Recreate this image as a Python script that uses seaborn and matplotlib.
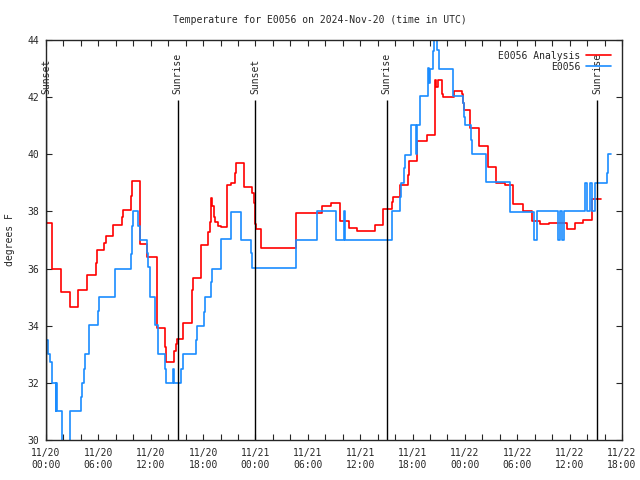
import matplotlib
matplotlib.use('Agg')
import matplotlib.pyplot as plt
import matplotlib.dates as mdates
import pandas as pd
import seaborn as sns

# ore dall'inizio (11/20 00:00 UTC) e temperature in gradi F
analysis_hours = [0.0, 0.69, 1.68, 2.71, 3.70, 4.74, 5.69, 5.85, 6.69, 6.9, 7.70, 8.67, 8.85,
                  9.70, 9.85, 10.73, 11.61, 12.68, 13.6, 13.75, 14.67, 14.85, 15.0, 15.7,
                  16.7, 16.75, 16.9, 17.72, 18.6, 18.75, 18.85, 19.0, 19.2, 19.4, 19.75, 20.0,
                  20.7, 21.2, 21.66, 21.8, 22.7, 23.64, 23.8, 23.9, 23.95, 24.1, 24.67, 28.68,
                  31.66, 32.6, 33.7, 34.72, 35.6, 37.7, 38.65, 39.6, 39.75, 40.56, 41.5, 41.65,
                  42.55, 43.6, 44.57, 44.69, 44.96, 45.35, 45.53, 46.7, 47.63, 47.75, 47.95,
                  48.58, 49.65, 50.6, 50.7, 51.56, 52.6, 53.55, 54.7, 55.65, 56.6, 57.64,
                  59.66, 60.6, 61.57, 62.6, 63.6]
analysis_temp = [37.6, 36.0, 35.17, 34.65, 35.25, 35.76, 36.2, 36.65, 36.9, 37.13, 37.51, 37.8, 38.04,
                 38.54, 39.05, 36.86, 36.4, 33.91, 33.27, 32.73, 33.1, 33.35, 33.55, 34.08,
                 34.8, 35.25, 35.66, 36.83, 37.29, 37.64, 38.46, 38.2, 37.82, 37.64, 37.5, 37.44,
                 38.93, 38.98, 39.33, 39.7, 38.84, 38.63, 38.28, 37.93, 37.56, 37.37, 36.71, 37.93,
                 38.19, 38.28, 37.66, 37.42, 37.3, 37.51, 38.07, 38.33, 38.5, 38.94, 39.29, 39.75,
                 40.47, 40.69, 42.6, 42.35, 42.6, 42.1, 42.0, 42.2, 42.1, 41.78, 41.55,
                 40.91, 40.29, 39.9, 39.54, 38.98, 38.93, 38.26, 38.03, 37.68, 37.56, 37.6,
                 37.37, 37.61, 37.7, 38.42, 38.42]

obs_hours = [0.0, 0.05, 0.2, 0.5, 0.65, 1.1, 1.15, 1.25, 1.87, 2.71, 4.05, 4.15, 4.35, 4.45, 4.97, 5.96,
             6.05, 7.95, 9.78, 9.83, 9.9, 9.95, 10.58, 10.73, 11.61, 11.7, 11.9, 11.95, 12.45,
             12.87, 13.64, 13.8, 14.55, 14.63, 15.5, 15.7, 17.22, 17.3, 18.1, 18.2, 18.95,
             19.05, 20.0, 20.1, 21.16, 22.3, 22.4, 23.52, 23.62, 28.68, 31.0, 31.08, 33.2,
             33.28, 34.2, 34.3, 39.7, 40.56, 40.65, 41.06, 41.13, 41.78, 41.85, 42.4, 42.5,
             42.85, 43.73, 43.85, 44.0, 44.4, 44.5, 44.8, 45.05, 46.67, 47.8, 47.9, 48.0,
             48.7, 48.8, 50.4, 53.17, 55.96, 56.3, 58.68, 58.95, 59.16, 59.39, 61.76, 62.03,
             62.33, 62.6, 62.9, 64.25, 64.35, 64.45, 64.7]
obs_temp = [34.49, 33.5, 33.0, 32.72, 32.0, 31.03, 32.0, 31.03, 29.5, 31.03, 31.5, 32.0, 32.5, 33.0, 34.01, 34.5,
            34.99, 36.0, 36.51, 36.98, 37.5, 38.0, 37.5, 37.0, 36.53, 36.07, 35.48, 35.02, 34.02,
            33.01, 32.47, 31.98, 32.5, 32.0, 32.5, 33.0, 33.5, 34.0, 34.49, 35.0, 35.54,
            36.0, 36.5, 37.02, 37.99, 37.47, 37.0, 36.53, 36.02, 37.0, 37.5, 38.0, 37.5,
            37.0, 38.0, 37.0, 38.0, 38.5, 39.0, 39.52, 39.99, 40.57, 41.04, 40.0, 41.04,
            42.03, 43.02, 42.5, 43.0, 43.6, 44.5, 43.65, 43.0, 42.04, 41.78, 41.32, 41.03,
            40.5, 40.01, 39.04, 37.99, 37.0, 38.0, 37.0, 38.0, 37.0, 38.0, 39.0, 38.0,
            39.0, 38.0, 39.0, 39.33, 39.74, 40.0, 40.0]

sun_hours = [0.0, 15.08, 23.97, 39.05, 63.15]
sun_labels = ['Sunset', 'Sunrise', 'Sunset', 'Sunrise', 'Sunrise']

start = pd.Timestamp('2024-11-20 00:00')
def to_time(h):
    return start + pd.to_timedelta(h, unit='h')

df_an = pd.DataFrame({'time': to_time(analysis_hours), 'temp': analysis_temp})
df_obs = pd.DataFrame({'time': to_time(obs_hours), 'temp': obs_temp})

sns.set_style('ticks')
plt.rcParams['font.family'] = ['DejaVu Sans Mono']
plt.rcParams['font.size'] = 7

fig = plt.figure(figsize=(6.4, 4.8), dpi=100)
ax = fig.add_axes([46/640, 40/480, 576/640, 400/480])

sns.lineplot(data=df_an, x='time', y='temp', ax=ax, color='#ff0000', lw=1.2,
             drawstyle='steps-post', estimator=None, sort=False, label='E0056 Analysis')
sns.lineplot(data=df_obs, x='time', y='temp', ax=ax, color='#1a8cff', lw=1.2,
             drawstyle='steps-post', estimator=None, sort=False, label='E0056')

for h, lab in zip(sun_hours, sun_labels):
    t = to_time(h)
    ax.vlines(t, 30, 41.9, color='black', lw=1)
    ax.text(t, 42.1, lab, rotation=90, ha='center', va='bottom', fontsize=7)

ax.set_xlim(start, to_time(66))
ax.set_ylim(30, 44)
ax.set_yticks(range(30, 45, 2))
ax.xaxis.set_major_locator(mdates.HourLocator(byhour=[0, 6, 12, 18]))
ax.xaxis.set_minor_locator(mdates.HourLocator(byhour=range(0, 24, 2)))
ax.xaxis.set_major_formatter(mdates.DateFormatter('%m/%d\n%H:%M'))
ax.tick_params(which='both', direction='in', top=True, right=True, length=4, width=0.8, labelsize=7)
ax.tick_params(axis='x', pad=6)
ax.tick_params(axis='y', pad=5)
for s in ax.spines.values():
    s.set_linewidth(1)
ax.set_xlabel('')
ax.set_ylabel('')

ax.legend(loc='upper right', frameon=False, markerfirst=False, handlelength=2.6,
          fontsize=7, borderaxespad=0.7, labelspacing=0.1, handletextpad=0.6)

fig.text(0.5, 1 - 20/480, 'Temperature for E0056 on 2024-Nov-20 (time in UTC)', ha='center', va='center', fontsize=7)
fig.text(10/640, 0.5, 'degrees F', rotation=90, ha='center', va='center', fontsize=7)

plt.savefig('out.png', dpi=100)
